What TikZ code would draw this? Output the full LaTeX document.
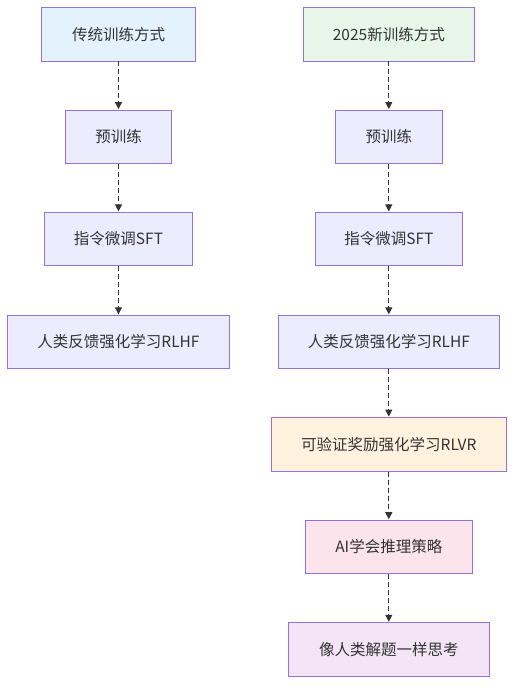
\documentclass[tikz,border=0pt]{standalone}
\usepackage{fontspec}
\setmainfont{Noto Sans CJK SC}
\usetikzlibrary{arrows.meta}
\definecolor{bordc}{HTML}{9370DB}
\definecolor{txtc}{HTML}{333333}
\definecolor{defc}{HTML}{ECECFF}
\definecolor{bluec}{HTML}{E3F2FD}
\definecolor{greenc}{HTML}{E8F5E9}
\definecolor{orangec}{HTML}{FFF3E0}
\definecolor{pinkc}{HTML}{FCE4EC}
\definecolor{purpc}{HTML}{F3E5F5}
\tikzset{
  box/.style={draw=bordc, line width=0.9pt, fill=defc, rectangle, minimum height=53.5pt,
    inner sep=0pt, text=txtc, font=\fontsize{15.5pt}{18pt}\selectfont},
  flow/.style={draw=txtc, line width=1.1pt, dash pattern=on 5pt off 3pt,
    -{Triangle[length=7pt,width=7pt]}, shorten >=0.5pt}
}
\begin{document}
\begin{tikzpicture}[x=1pt,y=-1pt]
\useasboundingbox (0,0) rectangle (522,694);
% left column
\node[box, fill=bluec, minimum width=154pt] (l0) at (118.5,34.25) {传统训练方式};
\node[box, minimum width=106.5pt] (l1) at (118.5,136.75) {预训练};
\node[box, minimum width=148pt] (l2) at (118.5,239.1) {指令微调SFT};
\node[box, minimum width=221.5pt] (l3) at (118.5,342) {人类反馈强化学习RLHF};
% right column
\node[box, fill=greenc, minimum width=171pt] (r0) at (388.8,34.25) {2025新训练方式};
\node[box, minimum width=107pt] (r1) at (388.8,136.75) {预训练};
\node[box, minimum width=147.3pt] (r2) at (388.8,239.1) {指令微调SFT};
\node[box, minimum width=221pt] (r3) at (388.8,342) {人类反馈强化学习RLHF};
\node[box, fill=orangec, minimum width=234.3pt] (r4) at (388.8,444.3) {可验证奖励强化学习RLVR};
\node[box, fill=pinkc, minimum width=167.3pt] (r5) at (388.8,546.9) {AI学会推理策略};
\node[box, fill=purpc, minimum width=201pt] (r6) at (388.8,649.5) {像人类解题一样思考};
% connectors
\draw[flow] (l0) -- (l1);
\draw[flow] (l1) -- (l2);
\draw[flow] (l2) -- (l3);
\draw[flow] (r0) -- (r1);
\draw[flow] (r1) -- (r2);
\draw[flow] (r2) -- (r3);
\draw[flow] (r3) -- (r4);
\draw[flow] (r4) -- (r5);
\draw[flow] (r5) -- (r6);
\end{tikzpicture}
\end{document}
